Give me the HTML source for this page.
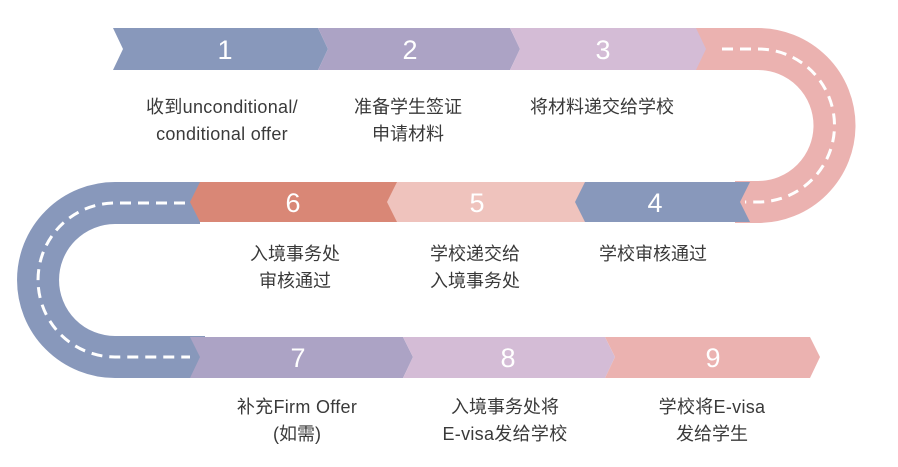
<!DOCTYPE html>
<html><head><meta charset="utf-8"><style>
html,body{margin:0;padding:0;background:#fff;width:898px;height:467px;overflow:hidden}
text{font-family:"Liberation Sans","Noto Sans CJK SC",sans-serif}
.n{fill:#fff;font-size:27px;text-anchor:middle}
.l{fill:#3a3a3a;font-size:18px;text-anchor:middle}
.e{letter-spacing:0.3px}
</style></head><body>
<svg width="898" height="467" viewBox="0 0 898 467">
<path d="M690,49 L758,49 A76.5 76.5 0 0 1 758,202 L735,202" fill="none" stroke="#ebb2b0" stroke-width="42"/>
<path d="M722,49 L758,49 A76.5 76.5 0 0 1 758,202 L745,202" fill="none" stroke="#fff" stroke-width="3" stroke-dasharray="11 7"/>
<path d="M200,203 L115,203 A77 77 0 0 0 115,357 L205,357" fill="none" stroke="#8898bb" stroke-width="42"/>
<path d="M185,203 L115,203 A77 77 0 0 0 115,357 L190,357" fill="none" stroke="#fff" stroke-width="3" stroke-dasharray="11 7"/>
<polygon points="113,28 318,28 328,49 318,70 113,70 123,49" fill="#8898bb"/>
<polygon points="318,28 510,28 520,49 510,70 318,70 328,49" fill="#aca3c5"/>
<polygon points="510,28 696,28 706,49 696,70 510,70 520,49" fill="#d4bcd6"/>
<polygon points="750,182 575,182 563,202 575,222 750,222 740,202" fill="#8898bb"/>
<polygon points="585,182 385,182 375,202 385,222 585,222 575,202" fill="#efc3bd"/>
<polygon points="397,182 200,182 190,202 200,222 397,222 387,202" fill="#d98776"/>
<polygon points="190,337 403,337 413,357 403,378 190,378 200,357" fill="#aca3c5"/>
<polygon points="403,337 605,337 615,357 605,378 403,378 413,357" fill="#d4bcd6"/>
<polygon points="605,337 810,337 820,357 810,378 605,378 615,357" fill="#ebb2b0"/>
<text class="n" x="225" y="59">1</text>
<text class="n" x="410" y="59">2</text>
<text class="n" x="603" y="59">3</text>
<text class="n" x="655" y="212">4</text>
<text class="n" x="477" y="212">5</text>
<text class="n" x="293" y="212">6</text>
<text class="n" x="298" y="367">7</text>
<text class="n" x="508" y="367">8</text>
<text class="n" x="713" y="367">9</text>
<text class="l e" x="222" y="113">收到unconditional/</text>
<text class="l e" x="222" y="140">conditional offer</text>
<text class="l" x="408" y="113">准备学生签证</text>
<text class="l" x="408" y="140">申请材料</text>
<text class="l" x="602" y="113">将材料递交给学校</text>
<text class="l" x="295" y="260">入境事务处</text>
<text class="l" x="295" y="287">审核通过</text>
<text class="l" x="475" y="260">学校递交给</text>
<text class="l" x="475" y="287">入境事务处</text>
<text class="l" x="653" y="260">学校审核通过</text>
<text class="l e" x="297" y="413">补充Firm Offer</text>
<text class="l" x="297" y="440">(如需)</text>
<text class="l" x="505" y="413">入境事务处将</text>
<text class="l e" x="505" y="440">E-visa发给学校</text>
<text class="l e" x="712" y="413">学校将E-visa</text>
<text class="l" x="712" y="440">发给学生</text>
</svg>
</body></html>
